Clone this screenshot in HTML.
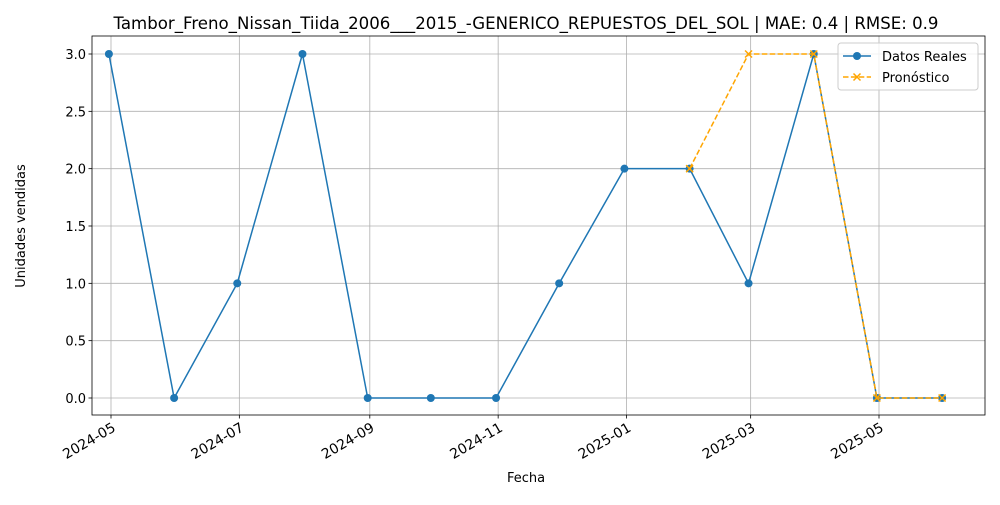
<!DOCTYPE html>
<html><head><meta charset="utf-8"><style>
body{margin:0;background:#fff;}
svg{font-family:"DejaVu Sans","Liberation Sans",sans-serif;}
</style></head><body>
<svg id="c" width="1000" height="500"></svg>
<script>
const dates=["2024-04-30","2024-05-31","2024-06-30","2024-07-31","2024-08-31","2024-09-30","2024-10-31","2024-11-30","2024-12-31","2025-01-31","2025-02-28","2025-03-31","2025-04-30","2025-05-31"];
const realValues=[3,0,1,3,0,0,0,1,2,2,1,3,0,0];
const fcDates=["2025-01-31","2025-02-28","2025-03-31","2025-04-30","2025-05-31"];
const fcValues=[2,3,3,0,0];
const xTicks=["2024-05","2024-07","2024-09","2024-11","2025-01","2025-03","2025-05"];
const yTicks=[0,0.5,1,1.5,2,2.5,3];
const NS="http://www.w3.org/2000/svg",svg=document.getElementById('c');
const L=92,R=985,T=36,B=415;
const base=Date.UTC(2024,4,1);
function days(s){const p=s.split('-').map(Number);return (Date.UTC(p[0],p[1]-1,p[2]||1)-base)/864e5;}
function X(s){return 111+days(s)*768/365;}
function Y(v){return 398-v*(344/3);}
function el(t,a,p){const e=document.createElementNS(NS,t);for(const k in a)e.setAttribute(k,a[k]);(p||svg).appendChild(e);return e;}
xTicks.forEach(t=>{const x=X(t+"-01");
const g=el('line',{x1:x,x2:x,y1:T,y2:B,stroke:'#b0b0b0','stroke-width':0.8});

el('line',{x1:x,x2:x,y1:B,y2:B+3.5,stroke:'#000','stroke-width':0.8});
const tx=el('text',{x:x+3,y:B+16,'font-size':13.9,'text-anchor':'end',transform:`rotate(-30 ${x+3} ${B+11})`});
tx.textContent=t;});
yTicks.forEach(v=>{const y=Y(v);
const g=el('line',{x1:L,x2:R,y1:y,y2:y,stroke:'#b0b0b0','stroke-width':0.8});

el('line',{x1:L-3.5,x2:L,y1:y,y2:y,stroke:'#000','stroke-width':0.8});
const tx=el('text',{x:L-6,y:y+5,'font-size':13,'text-anchor':'end'});
tx.textContent=v.toFixed(1);});
const rp=el('polyline',{points:dates.map((d,i)=>X(d)+','+Y(realValues[i])).join(' '),fill:'none',stroke:'#1f77b4','stroke-width':1.5});

dates.forEach((d,i)=>{const c=el('circle',{cx:X(d),cy:Y(realValues[i]),r:4,fill:'#1f77b4'});
});
const fp=el('polyline',{points:fcDates.map((d,i)=>X(d)+','+Y(fcValues[i])).join(' '),fill:'none',stroke:'#ffa500','stroke-width':1.5,'stroke-dasharray':'5.5,2.4'});

fcDates.forEach((d,i)=>{const x=X(d),y=Y(fcValues[i]);
const m=el('path',{d:`M${x-3.5},${y-3.5}L${x+3.5},${y+3.5}M${x-3.5},${y+3.5}L${x+3.5},${y-3.5}`,stroke:'#ffa500','stroke-width':1.5});
});
const f=el('rect',{x:L,y:T,width:R-L,height:B-T,fill:'none',stroke:'#000','stroke-width':0.8});

</script>
<svg style="position:absolute;left:0;top:0" width="1000" height="500">
<text x="526" y="29" font-size="16.5" text-anchor="middle" textLength="825" lengthAdjust="spacingAndGlyphs">Tambor_Freno_Nissan_Tiida_2006___2015_-GENERICO_REPUESTOS_DEL_SOL | MAE: 0.4 | RMSE: 0.9</text>
<text x="526" y="482" font-size="13" text-anchor="middle">Fecha</text>
<text x="25" y="226" font-size="13" text-anchor="middle" transform="rotate(-90 25 226)">Unidades vendidas</text>
<g>
<rect x="838" y="43" width="140" height="47" rx="3" fill="#fff" fill-opacity="0.8" stroke="#ccc"/>
<line x1="843" x2="871" y1="56" y2="56" stroke="#1f77b4" stroke-width="1.5"/>
<circle cx="857" cy="56" r="4" fill="#1f77b4"/>
<text x="882" y="61" font-size="13">Datos Reales</text>
<line x1="843" x2="871" y1="77" y2="77" stroke="#ffa500" stroke-width="1.5" stroke-dasharray="5.5,2.4"/>
<path d="M853.5,73.5L860.5,80.5M853.5,80.5L860.5,73.5" stroke="#ffa500" stroke-width="1.5"/>
<text x="882" y="82" font-size="13">Pronóstico</text>
</g>
</svg>
</body></html>
